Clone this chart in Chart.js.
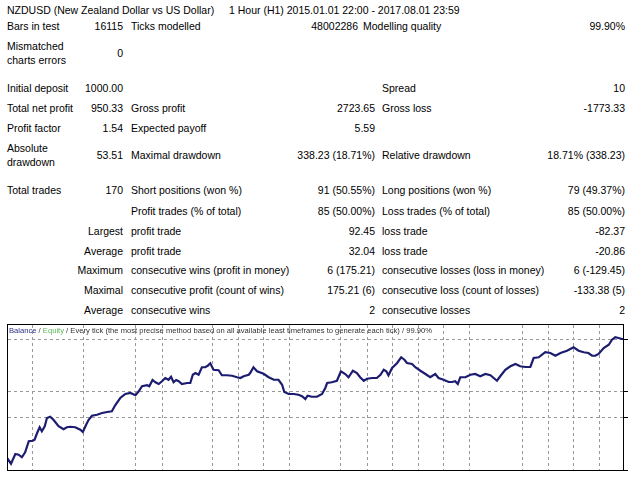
<!DOCTYPE html>
<html>
<head>
<meta charset="utf-8">
<script src="https://cdn.jsdelivr.net/npm/chart.js@4.4.1/dist/chart.umd.min.js"></script>
<style>
  html, body { margin: 0; padding: 0; background: #fff; }
  body { width: 640px; height: 480px; position: relative; overflow: hidden; }
  .t { position: absolute; white-space: nowrap; line-height: 14px; font: 10.5px "Liberation Sans", Arial, sans-serif; color: #000; }
  #wrap { position: absolute; left: 0; top: 318px; width: 640px; height: 162px; }
</style>
</head>
<body>
<!-- header -->
<div class="t" style="left:7px;top:4px">NZDUSD (New Zealand Dollar vs US Dollar)</div>
<div class="t" style="left:229px;top:4px">1 Hour (H1) 2015.01.01 22:00 - 2017.08.01 23:59</div>

<div class="t" style="left:7px;top:20px">Bars in test</div>
<div class="t" style="right:517px;top:20px">16115</div>
<div class="t" style="left:131px;top:20px">Ticks modelled</div>
<div class="t" style="right:282px;top:20px">48002286</div>
<div class="t" style="left:363px;top:20px">Modelling quality</div>
<div class="t" style="right:15px;top:20px">99.90%</div>

<div class="t" style="left:7px;top:40px">Mismatched</div>
<div class="t" style="left:7px;top:54px">charts errors</div>
<div class="t" style="right:517px;top:47px">0</div>

<div class="t" style="left:7px;top:82px">Initial deposit</div>
<div class="t" style="right:517px;top:82px">1000.00</div>
<div class="t" style="left:382px;top:82px">Spread</div>
<div class="t" style="right:15px;top:82px">10</div>

<div class="t" style="left:7px;top:102px">Total net profit</div>
<div class="t" style="right:517px;top:102px">950.33</div>
<div class="t" style="left:131px;top:102px">Gross profit</div>
<div class="t" style="right:265px;top:102px">2723.65</div>
<div class="t" style="left:382px;top:102px">Gross loss</div>
<div class="t" style="right:15px;top:102px">-1773.33</div>

<div class="t" style="left:7px;top:122px">Profit factor</div>
<div class="t" style="right:517px;top:122px">1.54</div>
<div class="t" style="left:131px;top:122px">Expected payoff</div>
<div class="t" style="right:265px;top:122px">5.59</div>

<div class="t" style="left:7px;top:142px">Absolute</div>
<div class="t" style="left:7px;top:156px">drawdown</div>
<div class="t" style="right:517px;top:149px">53.51</div>
<div class="t" style="left:131px;top:149px">Maximal drawdown</div>
<div class="t" style="right:265px;top:149px">338.23 (18.71%)</div>
<div class="t" style="left:382px;top:149px">Relative drawdown</div>
<div class="t" style="right:15px;top:149px">18.71% (338.23)</div>

<div class="t" style="left:7px;top:184px">Total trades</div>
<div class="t" style="right:517px;top:184px">170</div>
<div class="t" style="left:131px;top:184px">Short positions (won %)</div>
<div class="t" style="right:265px;top:184px">91 (50.55%)</div>
<div class="t" style="left:382px;top:184px">Long positions (won %)</div>
<div class="t" style="right:15px;top:184px">79 (49.37%)</div>

<div class="t" style="left:131px;top:205px">Profit trades (% of total)</div>
<div class="t" style="right:265px;top:205px">85 (50.00%)</div>
<div class="t" style="left:382px;top:205px">Loss trades (% of total)</div>
<div class="t" style="right:15px;top:205px">85 (50.00%)</div>

<div class="t" style="right:517px;top:225px">Largest</div>
<div class="t" style="left:131px;top:225px">profit trade</div>
<div class="t" style="right:265px;top:225px">92.45</div>
<div class="t" style="left:382px;top:225px">loss trade</div>
<div class="t" style="right:15px;top:225px">-82.37</div>

<div class="t" style="right:517px;top:245px">Average</div>
<div class="t" style="left:131px;top:245px">profit trade</div>
<div class="t" style="right:265px;top:245px">32.04</div>
<div class="t" style="left:382px;top:245px">loss trade</div>
<div class="t" style="right:15px;top:245px">-20.86</div>

<div class="t" style="right:517px;top:264px">Maximum</div>
<div class="t" style="left:131px;top:264px">consecutive wins (profit in money)</div>
<div class="t" style="right:265px;top:264px">6 (175.21)</div>
<div class="t" style="left:382px;top:264px">consecutive losses (loss in money)</div>
<div class="t" style="right:15px;top:264px">6 (-129.45)</div>

<div class="t" style="right:517px;top:284px">Maximal</div>
<div class="t" style="left:131px;top:284px">consecutive profit (count of wins)</div>
<div class="t" style="right:265px;top:284px">175.21 (6)</div>
<div class="t" style="left:382px;top:284px">consecutive loss (count of losses)</div>
<div class="t" style="right:15px;top:284px">-133.38 (5)</div>

<div class="t" style="right:517px;top:304px">Average</div>
<div class="t" style="left:131px;top:304px">consecutive wins</div>
<div class="t" style="right:265px;top:304px">2</div>
<div class="t" style="left:382px;top:304px">consecutive losses</div>
<div class="t" style="right:15px;top:304px">2</div>

<div id="wrap"><canvas id="balance-chart" width="640" height="162"></canvas></div>

<script>
// balance curve (x = trade number, y = balance)
const tradeNo = [
    0, 1.1, 2.3, 3.2, 4.1, 5.0, 6.0, 7.1, 7.6, 8.3, 9.0, 9.6, 10.4, 11.0, 11.9, 12.8,
    14.2, 15.6, 16.5, 17.4, 18.8, 20.2, 20.9, 21.8, 22.5, 23.4, 24.8, 26.2, 27.6, 28.9,
    29.8, 31.2, 32.6, 34.0, 35.4, 36.3, 37.2, 38.6, 39.2, 40.1, 40.9, 41.8, 42.7, 43.6,
    44.5, 45.2, 45.9, 46.6, 47.3, 48.2, 49.6, 50.5, 51.2, 51.9, 52.8, 53.7, 54.6, 55.3,
    56.0, 56.9, 58.3, 59.2, 60.6, 62.0, 63.4, 64.3, 65.2, 66.6, 67.0, 67.9, 68.9, 70.7,
    72.1, 73.5, 74.8, 75.8, 76.4, 77.6, 79.0, 80.3, 81.3, 82.2, 82.8, 84.0, 85.4, 86.8,
    87.7, 88.2, 89.5, 90.9, 92.0, 93.2, 94.1, 95.3, 96.4, 97.3, 98.3, 99.2, 100.6, 101.9,
    102.9, 103.8, 104.5, 105.1, 106.1, 107.5, 108.6, 109.5, 110.2, 111.6, 112.5, 113.9,
    115.3, 116.6, 118.0, 118.9, 120.3, 121.7, 122.6, 123.5, 124.2, 124.9, 126.3, 127.7,
    129.0, 130.4, 131.8, 133.2, 134.1, 135.0, 135.9, 137.3, 138.7, 140.1, 141.4, 142.8,
    144.2, 145.1, 146.5, 148.3, 149.7, 151.1, 152.5, 154.3, 156.1, 157.5, 158.9, 160.2,
    161.2, 162.1, 163.0, 164.4, 165.8, 166.7, 167.6, 168.5, 169.4, 170
];
const balance = [
    1000, 954, 1032, 1026, 1006, 1046, 1134, 1138, 1146, 1200, 1246, 1214, 1254, 1320, 1330, 1306,
    1254, 1230, 1246, 1250, 1246, 1226, 1208, 1266, 1306, 1338, 1346, 1360, 1368, 1374,
    1422, 1480, 1512, 1520, 1502, 1534, 1574, 1582, 1574, 1624, 1606, 1592, 1614, 1640,
    1626, 1650, 1606, 1624, 1614, 1592, 1600, 1600, 1666, 1680, 1666, 1726, 1726, 1738,
    1758, 1706, 1702, 1662, 1662, 1658, 1646, 1640, 1654, 1666, 1680, 1726, 1694, 1674,
    1646, 1626, 1626, 1586, 1528, 1512, 1512, 1506, 1494, 1472, 1498, 1490, 1490, 1512,
    1560, 1600, 1606, 1618, 1694, 1672, 1646, 1698, 1680, 1646, 1618, 1634, 1640, 1640,
    1666, 1706, 1694, 1662, 1720, 1760, 1806, 1786, 1760, 1752, 1726, 1698,
    1672, 1646, 1672, 1640, 1626, 1608, 1608, 1614, 1592, 1646, 1646, 1666,
    1672, 1654, 1672, 1662, 1640, 1618, 1654, 1706, 1734, 1752, 1734, 1728,
    1728, 1800, 1806, 1846, 1840, 1818, 1840, 1858, 1886, 1858, 1846, 1840,
    1818, 1818, 1832, 1880, 1906, 1946, 1966, 1960, 1952, 1952
];

// grid positions of the tester graph
const xGridTrades = [7.0, 21.0, 35.4, 42.8, 56.6, 63.7, 70.6, 77.8, 91.8, 99.3, 106.2,
    113.3, 120.2, 127.4, 142.0, 149.1, 156.0, 163.2];
const yGridBalance = [1328, 1536, 1952];
const yTickMarks = [896, 1328, 1536, 1952];
const yRange = [896, 2072];

const captionParts = [
    ['Balance', '#2f2f88'],
    [' / ', '#333'],
    ['Equity', '#5cb85c'],
    [' / Every tick (the most precise method based on all available least timeframes to generate each tick) / 99.90%', '#333']
];

// dashed grid, right-hand tick marks, frame and the small caption
const graphDecor = {
    id: 'graphDecor',
    beforeDatasetsDraw(chart) {
        const { ctx, chartArea: a, scales } = chart;
        const xs = scales.x, ys = scales.y;
        const top = Math.round(a.top) + 1, bottom = Math.round(a.bottom) - 1;
        const left = Math.round(a.left) + 1, right = Math.round(a.right) - 1;
        ctx.save();
        ctx.fillStyle = '#999999';
        for (const v of xGridTrades) {
            const px = Math.round(xs.getPixelForValue(v));
            for (let yy = top; yy < bottom; yy += 6) ctx.fillRect(px, yy, 1, Math.min(3, bottom - yy));
        }
        for (const v of yGridBalance) {
            const py = Math.round(ys.getPixelForValue(v));
            for (let xx = left; xx < right; xx += 6) ctx.fillRect(xx, py, Math.min(3, right - xx), 1);
        }
        ctx.restore();
    },
    afterDraw(chart) {
        const { ctx, chartArea: a, scales } = chart;
        const ys = scales.y;
        ctx.save();
        ctx.fillStyle = '#000';
        const l = Math.round(a.left), t = Math.round(a.top);
        const r = Math.round(a.right), b = Math.round(a.bottom);
        ctx.fillRect(l, t, r - l, 1);
        ctx.fillRect(l, b - 1, r - l, 1);
        ctx.fillRect(l, t, 1, b - t);
        ctx.fillRect(r - 1, t, 1, b - t);
        for (const v of yTickMarks) {
            const py = Math.min(Math.round(ys.getPixelForValue(v)), b - 1);
            ctx.fillRect(r, py, 4, 1);
        }

        ctx.font = '8px "Liberation Sans", Arial, sans-serif';
        ctx.textBaseline = 'middle';
        const total = captionParts.reduce((w, p) => w + ctx.measureText(p[0]).width, 0);
        const sx = 423 / total;
        ctx.translate(a.left + 2, a.top + 7);
        ctx.scale(sx, 1);
        let cx = 0;
        captionParts.forEach(([txt, col]) => {
            ctx.fillStyle = col;
            ctx.fillText(txt, cx, 0);
            cx += ctx.measureText(txt).width;
        });
        ctx.restore();
    }
};

new Chart(document.getElementById('balance-chart'), {
    type: 'line',
    data: {
        datasets: [{
            label: 'Balance',
            data: tradeNo.map((t, i) => ({ x: t, y: balance[i] })),
            borderColor: '#1c1c70',
            borderWidth: 2.2,
            pointRadius: 0,
            tension: 0,
            fill: false
        }]
    },
    options: {
        responsive: false,
        animation: false,
        layout: { padding: { left: 7, top: 6, right: 0, bottom: 9 } },
        plugins: { legend: { display: false }, tooltip: { enabled: false } },
        scales: {
            x: {
                type: 'linear', min: 0, max: 170,
                afterFit: s => { s.height = 0; },
                ticks: { display: false },
                grid: { display: false },
                border: { display: false }
            },
            y: {
                type: 'linear', position: 'right', min: yRange[0], max: yRange[1],
                afterFit: s => { s.width = 16; },
                ticks: { display: false },
                grid: { display: false },
                border: { display: false }
            }
        }
    },
    plugins: [graphDecor]
});
</script>
</body>
</html>
